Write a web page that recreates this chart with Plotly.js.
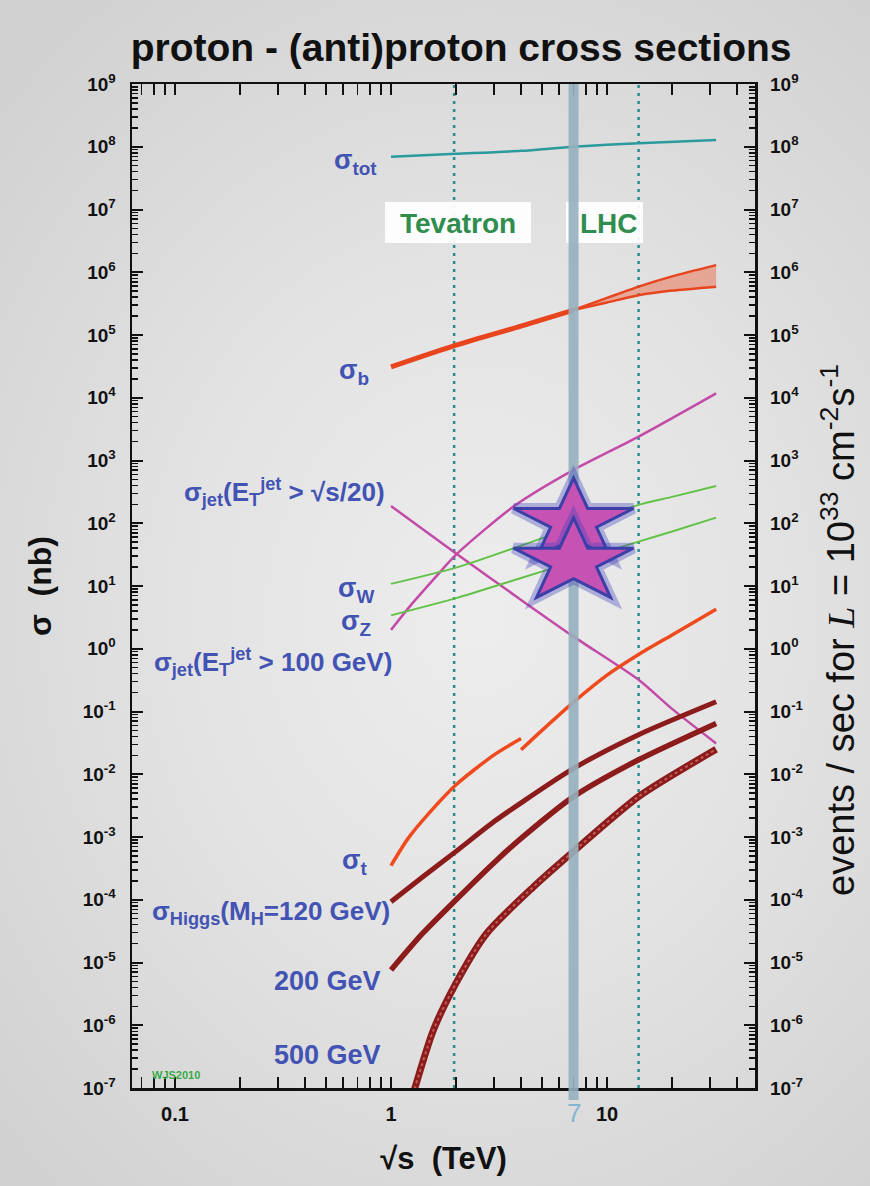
<!DOCTYPE html>
<html>
<head>
<meta charset="utf-8">
<script src="https://cdn.plot.ly/plotly-3.0.1.min.js"></script>
<style>
  html, body { margin: 0; padding: 0; }
  body {
    width: 870px; height: 1186px; overflow: hidden;
    background: radial-gradient(ellipse 75% 65% at 55% 52%, #ededed 0%, #e3e3e3 45%, #d1d1d1 100%);
  }
  #chart { width: 870px; height: 1186px; }
</style>
</head>
<body>
<div id="chart"></div>
<script>
// ---- cross sections (nb) versus collider energy sqrt(s) in TeV ----
const sTot   = [1, 2, 4, 7, 14, 32];
const sigTot = [6.9e7, 7.7e7, 8.6e7, 1.0e8, 1.14e8, 1.28e8];

const sB     = [1, 2, 4, 7];
const sigB   = [3.1e4, 6.9e4, 1.39e5, 2.5e5];
const sBband = [7, 10, 14, 20, 32];
const sigBhi = [2.5e5, 3.9e5, 5.9e5, 8.6e5, 1.3e6];
const sigBlo = [2.5e5, 3.3e5, 4.3e5, 5.1e5, 5.9e5];

// jets with E_T > sqrt(s)/20
const sJetA   = [1, 2, 4, 7, 14, 20, 32];
const sigJetA = [188, 33, 6.0, 1.56, 0.32, 0.11, 0.031];
// jets with E_T > 100 GeV
const sJetB   = [1, 1.22, 1.57, 2, 3.7, 7, 14, 32];
const sigJetB = [2.0, 4.7, 12.6, 31.6, 186, 708, 2400, 11750];

const sWZ  = [1, 2, 4, 7, 14, 20, 32];
const sigW = [10.8, 19.6, 44, 87, 196, 263, 393];
const sigZ = [3.4, 6.4, 13.4, 24.3, 51, 74, 123];

// top pairs: p-pbar below 4 TeV, pp above
const sTopPbar   = [1, 1.2, 1.5, 2, 3, 4];
const sigTopPbar = [3.5e-4, 9.5e-4, 2.4e-3, 6.8e-3, 0.0204, 0.0372];
const sTopPP     = [4, 5, 7, 10, 14, 20, 32];
const sigTopPP   = [0.0245, 0.050, 0.141, 0.38, 0.81, 1.66, 4.27];

// Higgs for three masses
const sHiggs  = [1, 1.4, 2, 3, 4, 7, 14, 32];
const sigH120 = [9.3e-5, 2.3e-4, 5.9e-4, 1.76e-3, 3.5e-3, 0.0124, 0.0427, 0.143];
const sigH200 = [7.6e-6, 2.9e-5, 1.0e-4, 3.9e-4, 9.5e-4, 4.4e-3, 0.017, 0.0646];
const sH500   = [1, 1.15, 1.29, 1.57, 2, 2.77, 4.56, 7, 14, 32];
const sigH500 = [4e-9, 2.5e-8, 1e-7, 8.3e-7, 4.7e-6, 2.9e-5, 1.6e-4, 5.9e-4, 4.4e-3, 0.025];

// collider energies
const eTevatron = 1.96;
const eLHC7 = 7;
const eLHC14 = 14;

// axis ticks
const xTickVals = [0.1, 1, 10];
const xTickText = ['0.1', '1', '10'];
const yTickVals = [1e-7, 1e-6, 1e-5, 1e-4, 1e-3, 1e-2, 1e-1, 1, 1e1, 1e2, 1e3, 1e4, 1e5, 1e6, 1e7, 1e8, 1e9];
const yTickText = ['10<sup>-7</sup>', '10<sup>-6</sup>', '10<sup>-5</sup>', '10<sup>-4</sup>', '10<sup>-3</sup>',
                   '10<sup>-2</sup>', '10<sup>-1</sup>', '10<sup>0</sup>', '10<sup>1</sup>', '10<sup>2</sup>',
                   '10<sup>3</sup>', '10<sup>4</sup>', '10<sup>5</sup>', '10<sup>6</sup>', '10<sup>7</sup>',
                   '10<sup>8</sup>', '10<sup>9</sup>'];

// ---- styling helpers ----
const FONT = 'Liberation Sans, Arial, Helvetica, sans-serif';
const C = {
  tot: '#2b9a9c', b: '#e8451f', jet: '#c44aa8', wz: '#62c247',
  top: '#ef4a1d', higgs: '#8c1b1b', label: '#4253b4', green: '#2f8d4d',
  dotted: '#2a8c8c', band: '#9cb4c0'
};

function curve(x, y, color, width, extra) {
  return Object.assign({
    type: 'scatter', mode: 'lines', x: x, y: y, hoverinfo: 'skip', showlegend: false,
    line: { color: color, width: width, shape: 'spline', smoothing: 0.7 }
  }, extra || {});
}

const traces = [
  curve(sTot, sigTot, C.tot, 2.5),
  curve(sB, sigB, C.b, 5),
  curve(sBband, sigBlo, C.b, 2.5),
  curve(sBband, sigBhi, C.b, 2.5, { fill: 'tonexty', fillcolor: 'rgba(235,95,60,0.45)' }),
  curve(sJetA, sigJetA, C.jet, 2.5),
  curve(sJetB, sigJetB, C.jet, 2.5),
  curve(sWZ, sigW, C.wz, 2),
  curve(sWZ, sigZ, C.wz, 2),
  curve(sTopPbar, sigTopPbar, C.top, 3.5),
  curve(sTopPP, sigTopPP, C.top, 3.5),
  curve(sHiggs, sigH120, C.higgs, 5),
  curve(sHiggs, sigH200, C.higgs, 5.5),
  curve(sH500, sigH500, C.higgs, 7),
  curve(sH500, sigH500, 'rgba(235,150,140,0.55)', 2, { line: { color: 'rgba(235,150,140,0.55)', width: 2, dash: 'dot', shape: 'spline', smoothing: 0.7 } }),
  // carries the right-hand axis
  { type: 'scatter', mode: 'lines', x: [], y: [], yaxis: 'y2', showlegend: false, hoverinfo: 'skip' }
];

// plot-area pixel geometry, used to place text in paper units
const PL = 132, PR = 755, PT = 84, PB = 1088;
const px = v => (v - PL) / (PR - PL);
const py = v => (PB - v) / (PB - PT);

function starPath(rx, ry, dy) {
  const pts = [];
  for (let k = 0; k < 10; k++) {
    const a = Math.PI / 2 + k * Math.PI / 5;
    const r = k % 2 ? 0.382 : 1;
    pts.push((rx * r * Math.cos(a)).toFixed(1) + ',' + (dy + ry * r * Math.sin(a)).toFixed(1));
  }
  return 'M' + pts.join(' L') + ' Z';
}

function star(yValue, dy, glow) {
  return {
    type: 'path', layer: 'above',
    xref: 'x', yref: 'y', xsizemode: 'pixel', ysizemode: 'pixel',
    xanchor: eLHC7, yanchor: yValue,
    path: starPath(63, 44, dy),
    fillcolor: glow ? 'rgba(70,70,190,0.25)' : '#c653b4',
    line: glow ? { color: 'rgba(60,60,185,0.35)', width: 11 } : { color: '#3c3fa8', width: 3 }
  };
}

const iLHC7 = sWZ.indexOf(eLHC7);

const shapes = [
  { type: 'line', layer: 'below', xref: 'x', yref: 'paper', x0: eTevatron, x1: eTevatron, y0: 0, y1: 1,
    line: { color: C.dotted, width: 2.5, dash: '3px,5px' } },
  { type: 'line', layer: 'below', xref: 'x', yref: 'paper', x0: eLHC14, x1: eLHC14, y0: 0, y1: 1,
    line: { color: C.dotted, width: 2.5, dash: '3px,5px' } },
  // white boxes behind the collider names
  { type: 'rect', layer: 'above', xref: 'paper', yref: 'paper', x0: px(385), x1: px(531), y0: py(243), y1: py(202),
    fillcolor: 'rgba(255,255,255,0.92)', line: { width: 0 } },
  { type: 'rect', layer: 'above', xref: 'paper', yref: 'paper', x0: px(566), x1: px(643), y0: py(243), y1: py(202),
    fillcolor: 'rgba(255,255,255,0.92)', line: { width: 0 } },
  // 7 TeV band
  { type: 'line', layer: 'above', xref: 'x', yref: 'paper', x0: eLHC7, x1: eLHC7, y0: -0.012, y1: 1,
    line: { color: 'rgba(150,176,190,0.9)', width: 10 } },
  star(sigW[iLHC7], 5, true),
  star(sigW[iLHC7], 5, false),
  star(sigZ[iLHC7], 0, true),
  star(sigZ[iLHC7], 0, false)
];

function label(text, xr, yc, extra) {
  return Object.assign({
    text: text, xref: 'paper', yref: 'paper', x: px(xr), y: py(yc),
    xanchor: 'right', yanchor: 'middle', showarrow: false,
    font: { family: FONT, size: 27, color: C.label, weight: 700 }
  }, extra || {});
}

const annotations = [
  label('σ<sub>tot</sub>', 379, 162),
  label('σ<sub>b</sub>', 371, 372),
  label('σ<sub>jet</sub>(E<sub>T</sub><sup>jet</sup> &gt; √s/20)', 387, 492, { font: { family: FONT, size: 26, color: C.label, weight: 700 } }),
  label('σ<sub>W</sub>', 376, 590),
  label('σ<sub>Z</sub>', 373, 623),
  label('σ<sub>jet</sub>(E<sub>T</sub><sup>jet</sup> &gt; 100 GeV)', 394, 662, { font: { family: FONT, size: 26, color: C.label, weight: 700 } }),
  label('σ<sub>t</sub>', 369, 862),
  label('σ<sub>Higgs</sub>(M<sub>H</sub>=120 GeV)', 392, 913, { font: { family: FONT, size: 26, color: C.label, weight: 700 } }),
  label('200 GeV', 383, 981),
  label('500 GeV', 383, 1055),
  label('WJS2010', 150, 1075, { xanchor: 'left', font: { family: FONT, size: 11, color: '#3aa84a', weight: 700 } }),
  label('Tevatron', 458, 223, { xanchor: 'center', font: { family: FONT, size: 28, color: C.green, weight: 700 } }),
  label('LHC', 578, 223, { xanchor: 'left', font: { family: FONT, size: 28, color: C.green, weight: 700 } }),
  label('7', 0, 1113, { xref: 'x', x: Math.log10(eLHC7), xanchor: 'center',
                        font: { family: FONT, size: 26, color: '#84b6d4', weight: 400 } }),
  label('events / sec for <span style="font-family:\'Liberation Serif\',serif"><i>L</i></span> = 10<sup>33</sup> cm<sup>-2</sup>s<sup>-1</sup>',
        838, 630, { xanchor: 'center', textangle: -90, font: { family: FONT, size: 38, color: '#111', weight: 400 } })
];

const axisCommon = {
  type: 'log', showgrid: false, zeroline: false,
  showline: true, linecolor: '#111', linewidth: 2.5, mirror: 'allticks',
  ticks: 'inside', ticklen: 11, tickwidth: 2, tickcolor: '#111',
  minor: { ticks: 'inside', ticklen: 6, tickwidth: 1.5, tickcolor: '#111', dtick: 'D1' },
  tickmode: 'array'
};

const layout = {
  width: 870, height: 1186,
  margin: { l: PL, r: 870 - PR, t: PT, b: 1186 - PB },
  paper_bgcolor: 'rgba(0,0,0,0)', plot_bgcolor: 'rgba(0,0,0,0)',
  showlegend: false,
  font: { family: FONT, color: '#111' },
  title: {
    text: 'proton - (anti)proton cross sections',
    font: { family: FONT, size: 39, weight: 700, color: '#111' },
    xref: 'container', yref: 'container', x: 0.53, y: 0.96, xanchor: 'center', yanchor: 'middle'
  },
  xaxis: Object.assign({}, axisCommon, {
    range: [-1.199, 1.685],
    tickvals: xTickVals, ticktext: xTickText,
    tickfont: { family: FONT, size: 20, weight: 700, color: '#111' },
    ticklabelstandoff: 6,
    title: { text: '√s\u00a0\u00a0(TeV)', font: { family: FONT, size: 31, weight: 700, color: '#111' }, standoff: 24 }
  }),
  yaxis: Object.assign({}, axisCommon, {
    range: [-7, 9],
    tickvals: yTickVals, ticktext: yTickText,
    tickfont: { family: FONT, size: 19, weight: 700, color: '#111' },
    ticklabelstandoff: 10,
    title: { text: 'σ\u00a0\u00a0(nb)', font: { family: FONT, size: 32, weight: 700, color: '#111' }, standoff: 22 }
  }),
  yaxis2: {
    type: 'log', overlaying: 'y', side: 'right', range: [-7, 9],
    showgrid: false, zeroline: false, showline: false, ticks: '',
    tickmode: 'array', tickvals: yTickVals, ticktext: yTickText,
    tickfont: { family: FONT, size: 19, weight: 700, color: '#111' },
    ticklabelstandoff: 14
  },
  shapes: shapes,
  annotations: annotations
};

Plotly.newPlot('chart', traces, layout, { staticPlot: true, displayModeBar: false });
</script>
</body>
</html>
